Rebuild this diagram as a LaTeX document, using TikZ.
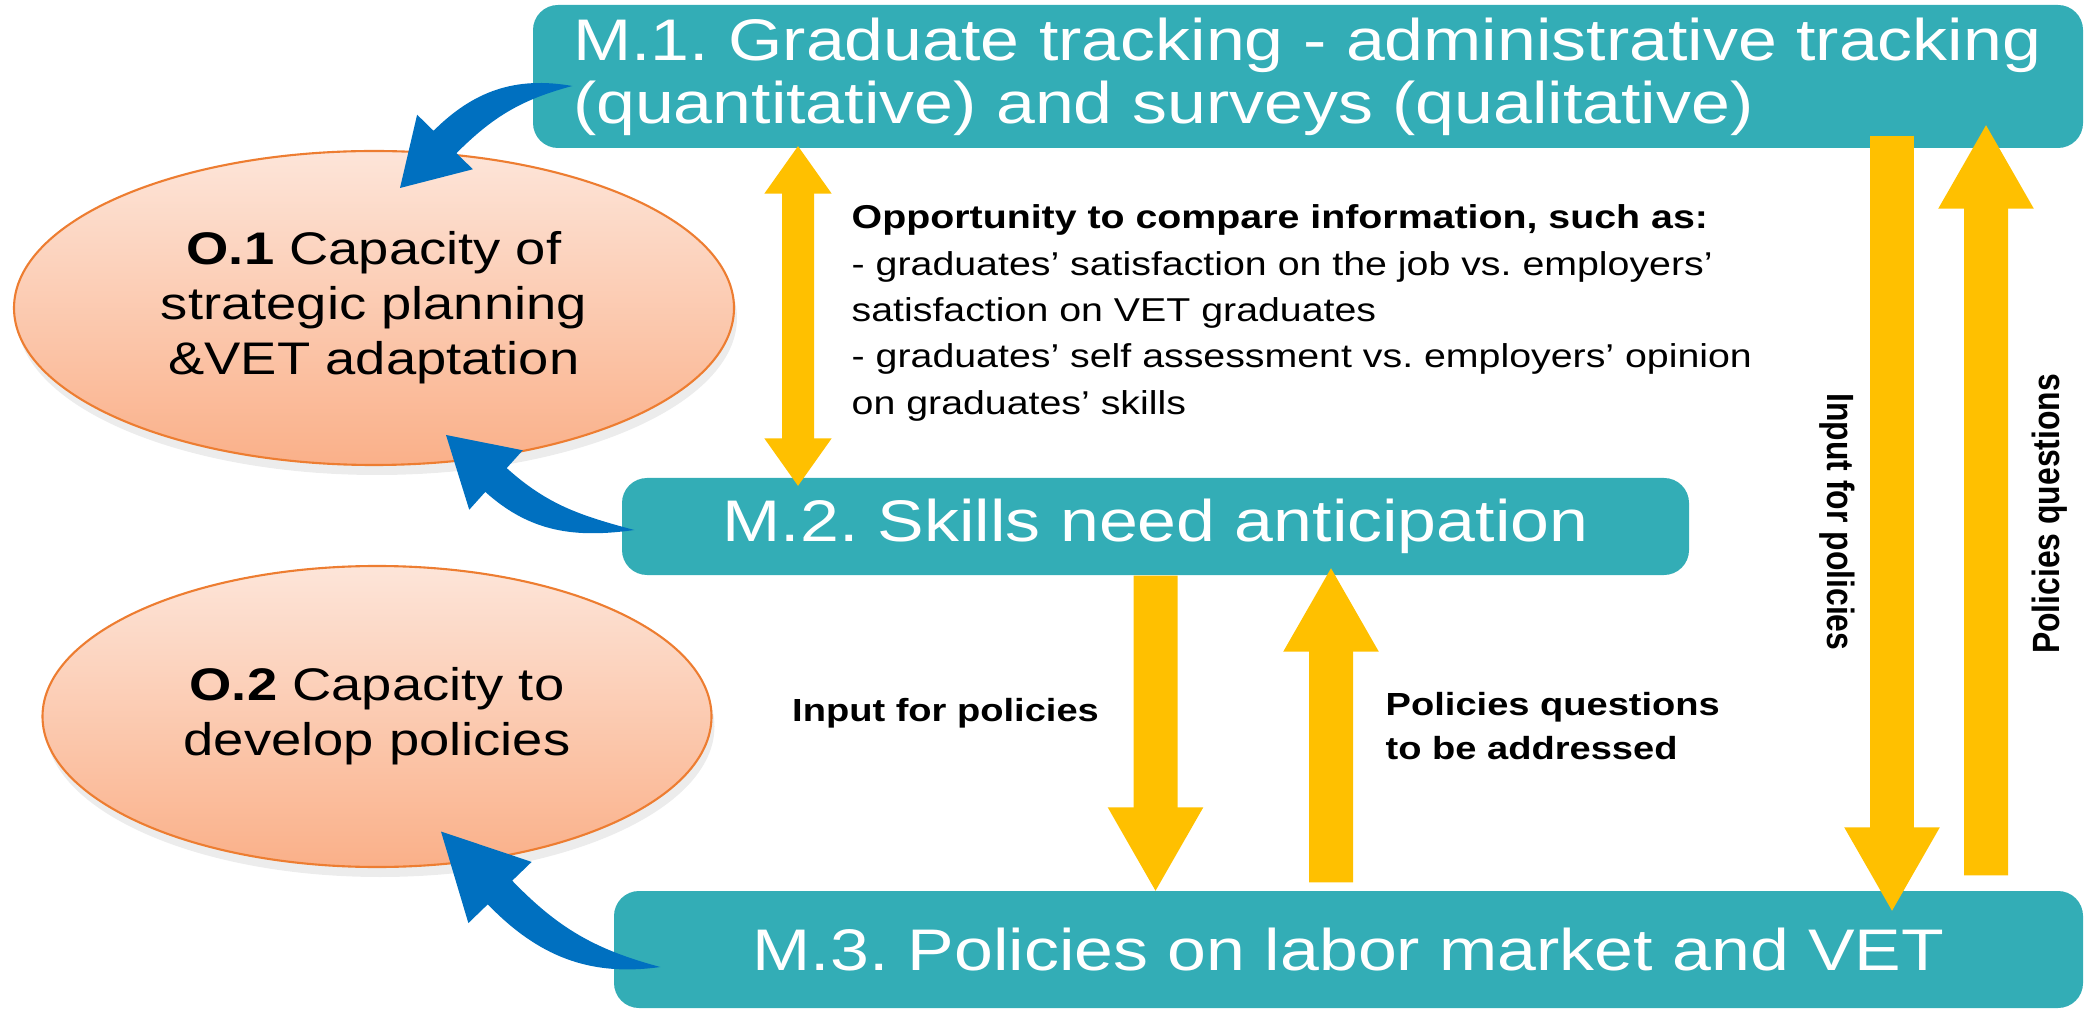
\documentclass[tikz,border=0pt]{standalone}
\usepackage{fontspec}
\setmainfont{Liberation Sans}[FakeStretch=1.19]
\newfontfamily\narrowfont{Liberation Sans}[FakeStretch=0.84]
\usetikzlibrary{positioning,arrows.meta,calc,shapes.geometric,shadows}

\definecolor{tealbox}{RGB}{51,173,182}
\definecolor{gold}{RGB}{255,192,0}
\definecolor{arrowblue}{RGB}{0,112,192}
\definecolor{peachtop}{RGB}{253,229,217}
\definecolor{peachbot}{RGB}{250,176,137}
\definecolor{orangeline}{RGB}{237,125,49}

\begin{document}
\frenchspacing
\begin{tikzpicture}[
    >=Latex,
    mbox/.style={fill=tealbox, rounded corners=2.5mm, text=white, inner sep=0pt, font=\fontsize{16.7}{17.9}\selectfont},
    goal/.style={ellipse, draw=orangeline, line width=0.6pt, top color=peachtop, bottom color=peachbot, inner sep=0pt, align=center,
                 font=\fontsize{13}{15.6}\selectfont, drop shadow={opacity=0.15, shadow xshift=0.3mm, shadow yshift=-1mm}},
    note/.style={align=left, inner sep=0pt, font=\bfseries\fontsize{9.1}{12.5}\selectfont},
    vnote/.style={inner sep=0pt, font=\narrowfont\bfseries\fontsize{10.8}{13}\selectfont},
    flow/.style={draw=gold, line width=4.4mm, -{Triangle[width=8.9mm,length=8.5mm]}},
    twoway/.style={draw=gold, line width=3.2mm, {Triangle[width=6.4mm,length=4.8mm]}-{Triangle[width=6.4mm,length=4.8mm]}},
    bluearr/.style={fill=arrowblue},
  ]
  \useasboundingbox (0,0) rectangle (20.85,-10.11);

  % --- Objectives ---
  \node[goal, minimum width=7.2cm, minimum height=3.14cm] (o1) at (3.74,-3.08)
    {\textbf{O.1} Capacity of\\strategic planning\\\&VET adaptation};
  \node[goal, minimum width=6.69cm, minimum height=3.01cm] (o2) at (3.77,-7.165)
    {\textbf{O.2} Capacity to\\develop policies};

  % --- Measures ---
  \node[mbox, minimum width=15.5cm, minimum height=1.43cm, text width=14.7cm, inner xsep=4mm, align=left] (m1) at (13.08,-0.765)
    {\mbox{M.1. Graduate tracking - administrative tracking}\\\mbox{(quantitative) and surveys (qualitative)}};
  \node[mbox, minimum width=10.67cm, minimum height=0.97cm] (m2) at (11.555,-5.265) {M.2. Skills need anticipation};
  \node[mbox, minimum width=14.69cm, minimum height=1.17cm] (m3) at (13.485,-9.495) {M.3. Policies on labor market and VET};

  % --- Texts ---
  \node[anchor=west, align=left, inner sep=0pt, font=\fontsize{9.4}{13.2}\selectfont] (cmp) at (8.51,-3.13)
    {\textbf{Opportunity to compare information, such as:}\\
     - graduates’ satisfaction on the job vs. employers’\\
     satisfaction on VET graduates\\
     - graduates’ self assessment vs. employers’ opinion\\
     on graduates’ skills};
  \node[note] (inp) at (9.455,-7.13) {Input for policies};
  \node[note, anchor=west] (pq) at (13.85,-7.26) {Policies questions\\to be addressed};
  \node[vnote, rotate=-90] (inp2) at (18.37,-5.22) {Input for policies};
  \node[vnote, rotate=90] (pq2) at (20.50,-5.14) {Policies questions};

  % --- Yellow flows ---
  \draw[twoway] ([xshift=-51mm, yshift=0.3mm]m1.south) -- ([xshift=-35.75mm, yshift=-0.9mm]m2.north);
  \draw[flow] (m2.south) -- ([xshift=-19.3mm, yshift=-0.2mm]m3.north);
  \draw[flow] ([xshift=-1.75mm, yshift=0.8mm]m3.north) -- ([xshift=17.55mm, yshift=0.9mm]m2.south);
  \draw[flow] ([xshift=58.4mm, yshift=1.3mm]m1.south) -- ([xshift=54.35mm, yshift=-2.2mm]m3.north);
  \draw[flow] ([xshift=63.75mm, yshift=1.5mm]m3.north) -- ([xshift=67.8mm, yshift=2.5mm]m1.south);

  % --- Blue curved arrows: tail, head base, tip ---
  \coordinate (a1t) at ([shift={(0.40,-0.095)}]m1.west);
  \coordinate (a1b) at ([shift={(0.71,1.66)}]o1.center);
  \coordinate (a1p) at ([shift={(0.26,1.20)}]o1.center);
  \fill[bluearr] (a1t) to[out=170,in=45] ($(a1b)!1.6mm!-90:(a1p)$) -- ($(a1b)!3.9mm!-90:(a1p)$) -- (a1p)
    -- ($(a1b)!3.9mm!90:(a1p)$) -- ($(a1b)!1.6mm!90:(a1p)$) to[out=45,in=195] (a1t) -- cycle;

  \coordinate (a2t) at ([shift={(0.13,-0.035)}]m2.west);
  \coordinate (a2b) at ([shift={(1.22,-1.72)}]o1.center);
  \coordinate (a2p) at ([shift={(0.72,-1.27)}]o1.center);
  \fill[bluearr] (a2t) to[out=188,in=-42] ($(a2b)!1.6mm!90:(a2p)$) -- ($(a2b)!4mm!90:(a2p)$) -- (a2p)
    -- ($(a2b)!4mm!-90:(a2p)$) -- ($(a2b)!1.6mm!-90:(a2p)$) to[out=-42,in=165] (a2t) -- cycle;

  \coordinate (a3t) at ([shift={(0.47,-0.175)}]m3.west);
  \coordinate (a3b) at ([shift={(1.23,-1.76)}]o2.center);
  \coordinate (a3p) at ([shift={(0.64,-1.15)}]o2.center);
  \fill[bluearr] (a3t) to[out=188,in=-46] ($(a3b)!1.7mm!90:(a3p)$) -- ($(a3b)!4.4mm!90:(a3p)$) -- (a3p)
    -- ($(a3b)!4.4mm!-90:(a3p)$) -- ($(a3b)!1.7mm!-90:(a3p)$) to[out=-46,in=165] (a3t) -- cycle;
\end{tikzpicture}
\end{document}
